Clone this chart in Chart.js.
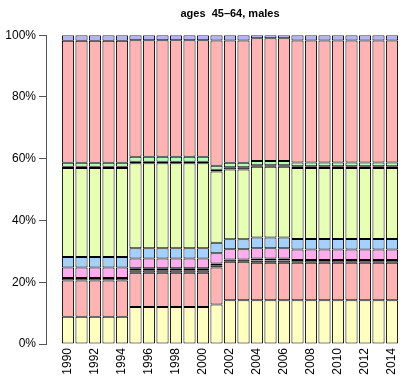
<!DOCTYPE html>
<html>
<head>
<meta charset="utf-8">
<script src="https://cdn.jsdelivr.net/npm/chart.js@4/dist/chart.umd.min.js"></script>
<style>
    body { margin: 0; background: #ffffff; }
    #wrap { width: 415px; height: 381px; }
</style>
</head>
<body>
<div id="wrap"><canvas id="chart"></canvas></div>
<script>
const YEARS = [1990, 1991, 1992, 1993, 1994, 1995, 1996, 1997, 1998, 1999, 2000, 2001, 2002,
    2003, 2004, 2005, 2006, 2007, 2008, 2009, 2010, 2011, 2012, 2013, 2014];
const TICK_YEARS = [1990, 1992, 1994, 1996, 1998, 2000, 2002, 2004, 2006, 2008, 2010, 2012, 2014];
const Y_TICKS = [0, 20, 40, 60, 80, 100];

// shares in percent, bottom segment first
const yellow = [8.8, 8.8, 8.8, 8.8, 8.8, 12.0, 12.0, 12.0, 12.0, 12.0, 12.0, 12.8, 14.2,
    14.2, 14.2, 14.2, 14.2, 14.2, 14.2, 14.2, 14.2, 14.2, 14.2, 14.2, 14.2];
const salmonLow = [11.8, 11.8, 11.8, 11.8, 11.8, 11.1, 11.1, 11.1, 11.1, 11.1, 11.1, 12.0, 12.4,
    12.4, 12.1, 12.1, 12.1, 12.1, 12.1, 12.1, 12.1, 12.1, 12.1, 12.1, 12.1];
const darkLow = [0.8, 0.8, 0.8, 0.8, 0.8, 0.8, 0.8, 0.8, 0.8, 0.8, 0.8, 0.7, 0.8,
    0.8, 0.7, 0.7, 0.7, 0.9, 0.9, 0.9, 0.9, 0.9, 0.9, 0.9, 0.9];
const teal = [0, 0, 0, 0, 0, 0.6, 0.6, 0.6, 0.6, 0.6, 0.6, 0.6, 0,
    0, 0, 0, 0, 0, 0, 0, 0, 0, 0, 0, 0];
const greenLow = [0, 0, 0, 0, 0, 0, 0, 0, 0, 0, 0, 0, 0,
    0, 0.7, 0.7, 0.7, 0, 0, 0, 0, 0, 0, 0, 0];
const magenta = [3.4, 3.4, 3.4, 3.4, 3.4, 3.2, 3.2, 3.2, 3.2, 3.2, 3.2, 3.3, 3.3,
    3.3, 3.3, 3.3, 3.3, 3.4, 3.4, 3.4, 3.4, 3.4, 3.4, 3.4, 3.4];
const blue = [3.4, 3.4, 3.4, 3.4, 3.4, 3.3, 3.3, 3.3, 3.3, 3.3, 3.3, 3.4, 3.2,
    3.2, 3.5, 3.5, 3.5, 3.4, 3.4, 3.4, 3.4, 3.4, 3.4, 3.4, 3.4];
const yellowGreen = [28.8, 28.8, 28.8, 28.8, 28.8, 27.5, 27.5, 27.5, 27.5, 27.5, 27.5, 23.1, 22.6,
    22.6, 22.9, 22.9, 22.9, 23.0, 23.0, 23.0, 23.0, 23.0, 23.0, 23.0, 23.0];
const darkHigh = [0.4, 0.4, 0.4, 0.4, 0.4, 0.5, 0.5, 0.5, 0.5, 0.5, 0.5, 0.5, 0.7,
    0.7, 0.5, 0.5, 0.5, 0.6, 0.6, 0.6, 0.6, 0.6, 0.6, 0.6, 0.6];
const green = [1.3, 1.3, 1.3, 1.3, 1.3, 1.6, 1.6, 1.6, 1.6, 1.6, 1.6, 1.3, 1.5,
    1.5, 1.4, 1.4, 1.4, 1.2, 1.2, 1.2, 1.2, 1.2, 1.2, 1.2, 1.2];
const salmonHigh = [39.5, 39.5, 39.5, 39.5, 39.5, 37.8, 37.8, 37.8, 37.8, 37.8, 37.8, 40.6, 39.6,
    39.6, 39.7, 39.7, 39.7, 39.5, 39.5, 39.5, 39.5, 39.5, 39.5, 39.5, 39.5];
const lavender = [1.8, 1.8, 1.8, 1.8, 1.8, 1.6, 1.6, 1.6, 1.6, 1.6, 1.6, 1.7, 1.7,
    1.7, 1.0, 1.0, 1.0, 1.7, 1.7, 1.7, 1.7, 1.7, 1.7, 1.7, 1.7];

const SERIES = [yellow, salmonLow, darkLow, teal, greenLow, magenta, blue, yellowGreen,
    darkHigh, green, salmonHigh, lavender];
const COLORS = ["#FFFFBF", "#FFB3B3", "#4D4D4D", "#7FB2B2", "#B3FFB3", "#FFADEF", "#A3D1FF",
    "#E6FFB3", "#4D4D4D", "#B3FFB3", "#FFB3B3", "#B3B3FF"];

const FONT = "'Liberation Sans', Arial, Helvetica, sans-serif";

const datasets = SERIES.map(function (values, i) {
    return {
        data: YEARS.map((yr, j) => ({ x: yr, y: values[j] })),
        backgroundColor: COLORS[i],
        borderColor: "#000000",
        borderWidth: 1,
        borderSkipped: false,
        barPercentage: 0.9,
        categoryPercentage: 1,
    };
});

new Chart(document.getElementById("chart"), {
    type: "bar",
    data: { datasets: datasets },
    options: {
        responsive: true,
        maintainAspectRatio: false,
        animation: false,
        layout: { padding: { left: 0, right: 1, top: 0, bottom: 0 } },
        plugins: {
            legend: { display: false },
            tooltip: { enabled: false },
            title: {
                display: true,
                text: "ages  45\u201364, males",
                fullSize: false,
                color: "#000000",
                font: { family: FONT, size: 11, weight: "bold", lineHeight: 1.2 },
                padding: { top: 7, bottom: 15 },
            },
        },
        scales: {
            x: {
                type: "linear",
                stacked: true,
                offset: false,
                min: 1988.37,
                max: 2015.63,
                grid: { display: false, drawTicks: false },
                border: { display: false },
                afterBuildTicks: function (scale) {
                    scale.ticks = TICK_YEARS.map((v) => ({ value: v }));
                },
                afterFit: function (scale) {
                    scale.height = 37;
                },
                ticks: {
                    autoSkip: false,
                    minRotation: 90,
                    maxRotation: 90,
                    padding: 4,
                    color: "#000000",
                    font: { family: FONT, size: 12 },
                    callback: (v) => String(v),
                },
            },
            y: {
                stacked: true,
                min: 0,
                max: 100,
                afterBuildTicks: function (scale) {
                    scale.ticks = Y_TICKS.map((v) => ({ value: v }));
                },
                afterFit: function (scale) {
                    scale.width = 46;
                },
                grid: {
                    display: true,
                    drawOnChartArea: false,
                    drawTicks: true,
                    tickLength: 7,
                    color: "#555555",
                },
                border: { display: true, color: "#555555" },
                ticks: {
                    padding: 3,
                    color: "#000000",
                    font: { family: FONT, size: 12 },
                    callback: (v) => v + "%",
                },
            },
        },
    },
});
</script>
</body>
</html>
